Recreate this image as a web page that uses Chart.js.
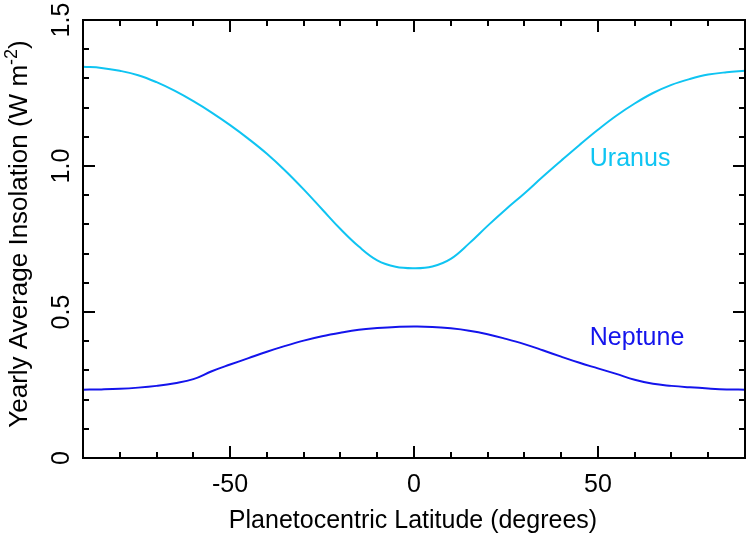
<!DOCTYPE html>
<html>
<head>
<meta charset="utf-8">
<script src="https://cdn.jsdelivr.net/npm/chart.js@4"></script>
<style>
  html, body { margin: 0; padding: 0; background: #fff; }
  #wrap { width: 750px; height: 541px; }
</style>
</head>
<body>
<div id="wrap"><canvas id="grafico" width="750" height="541"></canvas></div>
<script>
// latitud (grados)
const latitudes = [-90, -85, -80, -75, -70, -65, -60, -55, -50, -45, -40, -35, -30, -25, -20, -15, -10, -5,
  0, 5, 10, 15, 20, 25, 30, 35, 40, 45, 50, 55, 60, 65, 70, 75, 80, 85, 90];
const urano = [1.340, 1.336, 1.326, 1.311, 1.287, 1.257, 1.222, 1.183, 1.140, 1.093, 1.042, 0.984, 0.920,
  0.852, 0.784, 0.724, 0.677, 0.655, 0.650, 0.656, 0.682, 0.735, 0.795, 0.852, 0.906, 0.963, 1.018, 1.072,
  1.124, 1.172, 1.214, 1.250, 1.278, 1.298, 1.313, 1.321, 1.326];
const neptuno = [0.234, 0.235, 0.237, 0.241, 0.247, 0.256, 0.270, 0.297, 0.320, 0.342, 0.364, 0.384, 0.402,
  0.417, 0.429, 0.439, 0.445, 0.449, 0.450, 0.449, 0.444, 0.436, 0.424, 0.408, 0.390, 0.369, 0.347, 0.326,
  0.307, 0.288, 0.268, 0.254, 0.247, 0.242, 0.238, 0.235, 0.234];
const etiquetasX = [-50, 0, 50];
const etiquetasY = ["0", "0.5", "1.0", "1.5"];
const colorUrano = "#0fc4f2";
const colorNeptuno = "#1414ec";

const fuente = "Liberation Sans, Arial, sans-serif";

// marco, marcas hacia adentro y textos
const ejes = {
  id: "ejes",
  afterDraw(chart) {
    const ctx = chart.ctx;
    const a = chart.chartArea;
    const sx = chart.scales.x, sy = chart.scales.y;
    ctx.save();
    ctx.strokeStyle = "#000";
    ctx.lineWidth = 2;
    ctx.strokeRect(a.left, a.top, a.right - a.left, a.bottom - a.top);

    ctx.beginPath();
    for (let v = -90; v <= 90; v += 10) {
      const px = Math.round(sx.getPixelForValue(v));
      const len = v % 50 === 0 ? 12 : 6;
      ctx.moveTo(px, a.bottom); ctx.lineTo(px, a.bottom - len);
      ctx.moveTo(px, a.top); ctx.lineTo(px, a.top + len);
    }
    for (let i = 0; i <= 15; i++) {
      const py = Math.round(sy.getPixelForValue(i / 10));
      const len = i % 5 === 0 ? 12 : 6;
      ctx.moveTo(a.left, py); ctx.lineTo(a.left + len, py);
      ctx.moveTo(a.right, py); ctx.lineTo(a.right - len, py);
    }
    ctx.stroke();

    ctx.fillStyle = "#000";
    ctx.font = "25px " + fuente;
    ctx.textAlign = "center";
    ctx.textBaseline = "middle";
    etiquetasX.forEach(v => {
      ctx.fillText(String(v), sx.getPixelForValue(v), 485);
    });
    etiquetasY.forEach(t => {
      ctx.save();
      ctx.translate(62, sy.getPixelForValue(parseFloat(t)));
      ctx.rotate(-Math.PI / 2);
      ctx.fillText(t, 0, 0);
      ctx.restore();
    });

    ctx.fillText("Planetocentric Latitude (degrees)", (a.left + a.right) / 2 - 1, 521);

    // titulo eje y con superindice
    ctx.save();
    ctx.translate(20, 0);
    ctx.rotate(-Math.PI / 2);
    const base = "Yearly Average Insolation (W m";
    const sup = "-2";
    const fin = ")";
    ctx.font = "26px " + fuente;
    const w1 = ctx.measureText(base).width;
    const w3 = ctx.measureText(fin).width;
    ctx.font = "18px " + fuente;
    const w2 = ctx.measureText(sup).width;
    const total = w1 + w2 + w3;
    let x0 = -234 - total / 2;
    ctx.textAlign = "left";
    ctx.font = "26px " + fuente;
    ctx.fillText(base, x0, 0);
    ctx.font = "18px " + fuente;
    ctx.fillText(sup, x0 + w1, -8);
    ctx.font = "26px " + fuente;
    ctx.fillText(fin, x0 + w1 + w2, 0);
    ctx.restore();

    ctx.textAlign = "left";
    ctx.font = "25px " + fuente;
    ctx.fillStyle = colorUrano;
    ctx.fillText("Uranus", sx.getPixelForValue(47.8), sy.getPixelForValue(1.024));
    ctx.fillStyle = colorNeptuno;
    ctx.fillText("Neptune", sx.getPixelForValue(47.8), sy.getPixelForValue(0.412));
    ctx.restore();
  }
};

new Chart(document.getElementById("grafico").getContext("2d"), {
  type: "line",
  data: {
    labels: latitudes,
    datasets: [
      {
        label: "Uranus",
        data: latitudes.map((x, i) => ({ x, y: urano[i] })),
        borderColor: colorUrano,
        borderWidth: 2,
        pointRadius: 0,
        tension: 0.4,
        fill: false
      },
      {
        label: "Neptune",
        data: latitudes.map((x, i) => ({ x, y: neptuno[i] })),
        borderColor: colorNeptuno,
        borderWidth: 2,
        pointRadius: 0,
        tension: 0.4,
        fill: false
      }
    ]
  },
  options: {
    responsive: false,
    animation: false,
    layout: { padding: { left: 83, right: 5, top: 20, bottom: 83 } },
    scales: {
      x: { type: "linear", min: -90, max: 90, display: false },
      y: { min: 0, max: 1.5, display: false }
    },
    plugins: { legend: { display: false }, tooltip: { enabled: false } }
  },
  plugins: [ejes]
});
</script>
</body>
</html>
